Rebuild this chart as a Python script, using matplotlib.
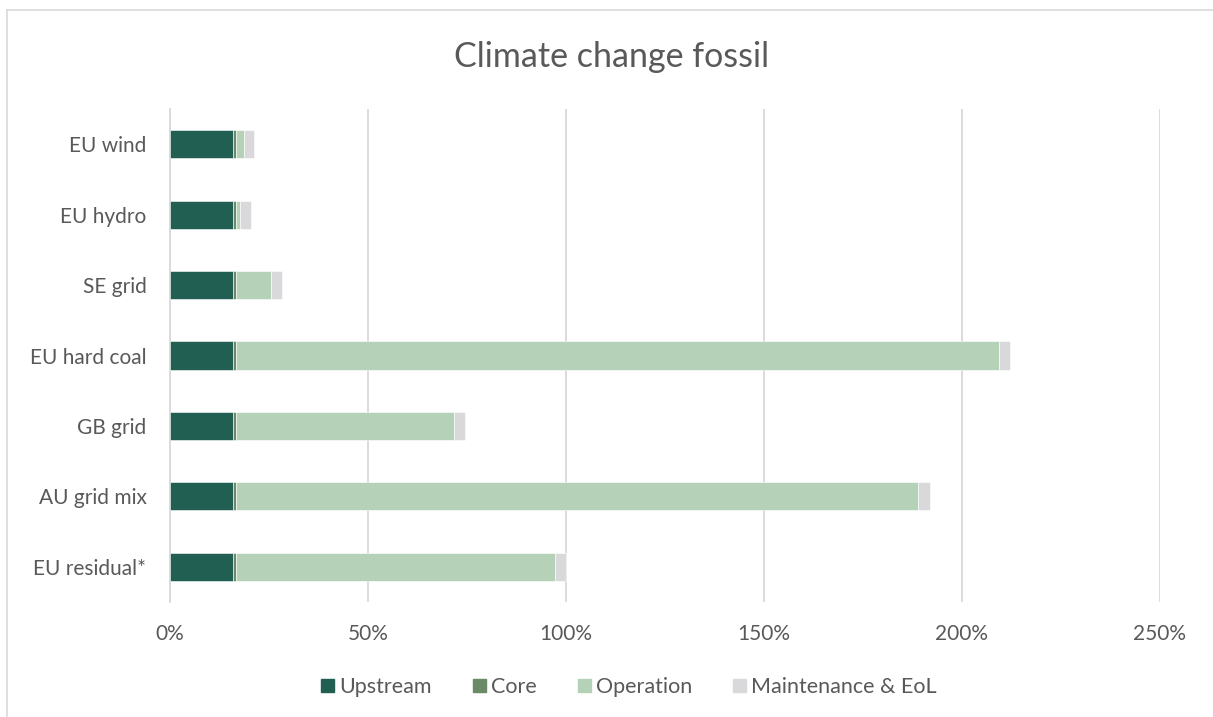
import matplotlib
matplotlib.use("Agg")
import matplotlib.pyplot as plt
from matplotlib.lines import Line2D
from matplotlib.ticker import FuncFormatter
import numpy as np

categories = ["EU wind", "EU hydro", "SE grid", "EU hard coal", "GB grid", "AU grid mix", "EU residual*"]
upstream = [16.0, 16.0, 16.0, 16.0, 16.0, 16.0, 16.0]
core = [0.6, 0.6, 0.6, 0.6, 0.6, 0.6, 0.6]
operation = [2.1, 1.1, 8.9, 192.7, 55.0, 172.4, 80.5]
maintenance = [2.6, 2.8, 2.8, 2.7, 2.8, 2.8, 2.9]
series_names = ["Upstream", "Core", "Operation", "Maintenance & EoL"]
colors = ["#215F52", "#6A8966", "#B5D1B7", "#D9D9DB"]
xticks = [0, 50, 100, 150, 200, 250]

plt.rcParams['font.family'] = ['Lato', 'DejaVu Sans']
W, H = 1213, 717
fig = plt.figure(figsize=(W / 100, H / 100), dpi=100)
ax = fig.add_axes([170 / W, 1 - 602 / H, (1160 - 170) / W, (602 - 109) / H])

y = np.arange(len(categories))
left = np.zeros(len(categories))
for vals, name, col in zip([upstream, core, operation, maintenance], series_names, colors):
    ax.barh(y, vals, left=left, height=0.4, color=col, label=name,
            edgecolor="white", linewidth=0.4, zorder=3)
    left = left + np.array(vals)

ax.set_ylim(len(categories) - 0.5, -0.5)
ax.set_xlim(0, 250)
ax.set_xticks(xticks)
ax.xaxis.set_major_formatter(FuncFormatter(lambda v, p: f"{v:.0f}%"))
ax.grid(axis="x", color="#D9D9D9", linewidth=1.3, zorder=0)
ax.set_axisbelow(True)
for s in ["top", "right", "bottom"]:
    ax.spines[s].set_visible(False)
ax.spines["left"].set_color("#D9D9D9")
ax.spines["left"].set_linewidth(1.3)
ax.set_yticks(y)
ax.set_yticklabels(categories)
ax.tick_params(axis="both", length=0, labelsize=15, labelcolor="#595959")
ax.tick_params(axis="y", pad=17)
ax.tick_params(axis="x", pad=16)

fig.text(612 / W, 1 - 57 / H, "Climate change fossil", ha="center", va="center",
         fontsize=24.5, color="#595959")

handles = [plt.Rectangle((0, 0), 1, 1, color=c) for c in colors]
fig.legend(handles, series_names, loc="center", bbox_to_anchor=(629 / W, 1 - 687 / H),
           ncol=4, frameon=False, fontsize=15.5, labelcolor="#595959",
           handlelength=0.6, handleheight=0.6, handletextpad=0.25, columnspacing=1.9)

# chart border (top and left visible)
fig.add_artist(Line2D([7 / W, 1], [1 - 10 / H, 1 - 10 / H], transform=fig.transFigure,
                      color="#D9D9D9", linewidth=1.2))
fig.add_artist(Line2D([7 / W, 7 / W], [0, 1 - 10 / H], transform=fig.transFigure,
                      color="#D9D9D9", linewidth=1.2))

fig.savefig("out.png", dpi=100, facecolor="white")
